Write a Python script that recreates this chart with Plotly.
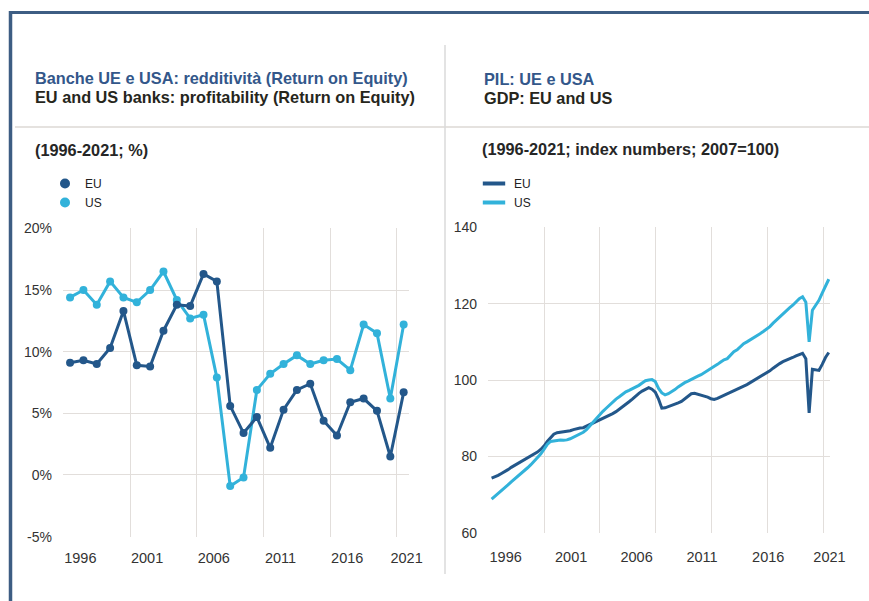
import plotly.graph_objects as go

W, H = 869, 601

# ---------------- data: bank profitability (ROE, %) ----------------
roe_years = list(range(1996, 2022))
roe_eu = [9.1, 9.3, 9.0, 10.3, 13.3, 8.9, 8.8, 11.7, 13.8, 13.7,
          16.3, 15.7, 5.6, 3.4, 4.7, 2.2, 5.3, 6.9, 7.4, 4.4,
          3.2, 5.9, 6.2, 5.2, 1.5, 6.7]
roe_us = [14.4, 15.0, 13.8, 15.7, 14.4, 14.0, 15.0, 16.5, 14.2, 12.7,
          13.0, 7.9, -0.9, -0.2, 6.9, 8.2, 9.0, 9.7, 9.0, 9.3,
          9.4, 8.5, 12.2, 11.5, 6.2, 12.2]
roe_ytick_vals = [-5, 0, 5, 10, 15, 20]
roe_ytick_text = ["-5%", "0%", "5%", "10%", "15%", "20%"]

# ---------------- data: GDP, quarterly, 2007=100 ----------------
gdp_years = list(range(1996, 2022))
gdp_eu = [
    74.3, 74.6, 75.0, 75.5,   # 1996
    75.9, 76.5, 77.1, 77.6,   # 1997
    78.1, 78.6, 79.1, 79.5,   # 1998
    80.0, 80.5, 81.1, 81.8,   # 1999
    82.7, 83.9, 85.0, 85.8,   # 2000
    86.2, 86.3, 86.4, 86.5,   # 2001
    86.7, 87.0, 87.3, 87.4,   # 2002
    87.5, 87.9, 88.4, 88.9,   # 2003
    89.3, 89.7, 90.1, 90.5,   # 2004
    90.8, 91.2, 91.7, 92.3,   # 2005
    92.9, 93.6, 94.3, 95.0,   # 2006
    95.8, 96.5, 97.1, 97.6,   # 2007
    98.0, 97.6, 96.8, 95.0,   # 2008
    92.6, 92.7, 93.0, 93.2,   # 2009
    93.5, 94.0, 94.4, 95.0,   # 2010
    95.7, 96.4, 96.5, 96.3,   # 2011
    96.1, 95.8, 95.5, 95.1,   # 2012
    94.9, 95.2, 95.6, 95.9,   # 2013
    96.2, 96.6, 97.1, 97.5,   # 2014
    97.9, 98.4, 98.8, 99.3,   # 2015
    99.8, 100.2, 100.7, 101.2,  # 2016
    101.7, 102.4, 103.1, 103.8,  # 2017
    104.3, 104.8, 105.1, 105.5,  # 2018
    105.9, 106.3, 106.7, 107.0,  # 2019
    105.6, 91.4, 102.8, 102.6,   # 2020
    102.5, 104.1, 105.9, 107.2,  # 2021
]
gdp_us = [
    68.8, 69.5, 70.3, 71.0,   # 1996
    71.7, 72.5, 73.3, 74.0,   # 1997
    74.7, 75.5, 76.2, 77.0,   # 1998
    77.8, 78.7, 79.6, 80.6,   # 1999
    81.8, 83.1, 83.9, 84.1,   # 2000
    84.1, 84.3, 84.2, 84.3,   # 2001
    84.6, 85.0, 85.4, 85.7,   # 2002
    86.3, 87.0, 88.0, 89.1,   # 2003
    90.0, 90.9, 91.8, 92.6,   # 2004
    93.4, 94.3, 95.0, 95.6,   # 2005
    96.3, 96.9, 97.3, 97.7,   # 2006
    98.0, 98.6, 99.2, 99.8,   # 2007
    100.0, 100.1, 99.6, 97.8,  # 2008
    96.6, 96.1, 96.4, 96.9,   # 2009
    97.5, 98.2, 98.8, 99.3,   # 2010
    99.7, 100.2, 100.6, 101.0,  # 2011
    101.4, 101.9, 102.5, 103.1,  # 2012
    103.6, 104.1, 104.7, 105.3,  # 2013
    105.6, 106.5, 107.4, 107.9,  # 2014
    108.7, 109.5, 110.0, 110.5,  # 2015
    111.0, 111.4, 112.1, 112.7,  # 2016
    113.3, 114.0, 114.9, 115.7,  # 2017
    116.6, 117.5, 118.2, 118.9,  # 2018
    119.6, 120.5, 121.3, 121.8,  # 2019
    120.4, 110.0, 118.3, 119.6,  # 2020
    120.9, 122.8, 124.4, 126.4,  # 2021
]
gdp_ytick_vals = [60, 80, 100, 120, 140]

year_labels = ["1996", "2001", "2006", "2011", "2016", "2021"]

# quarter positions (middle of each quarter, in fractional years)
gdp_x = [y + (q + 0.5) / 4 for y in gdp_years for q in range(4)]

# ---------------- style ----------------
EU_C = "#23578a"
US_C = "#32b2da"
GRID = "#e2dedb"
TICK_C = "#333333"
FONT = "Arial, Liberation Sans, sans-serif"


def fx(p):
    return p / W


def fy(p):
    return 1 - p / H


fig = go.Figure()

# left chart
fig.add_trace(go.Scatter(x=roe_years, y=roe_us, mode="lines+markers", name="US",
                         line=dict(color=US_C, width=3), marker=dict(size=8, color=US_C),
                         xaxis="x", yaxis="y", showlegend=False))
fig.add_trace(go.Scatter(x=roe_years, y=roe_eu, mode="lines+markers", name="EU",
                         line=dict(color=EU_C, width=3), marker=dict(size=8, color=EU_C),
                         xaxis="x", yaxis="y", showlegend=False))
# left legend entries
fig.add_trace(go.Scatter(x=[None], y=[None], mode="markers", name="EU",
                         marker=dict(size=10, color=EU_C), xaxis="x", yaxis="y",
                         legend="legend"))
fig.add_trace(go.Scatter(x=[None], y=[None], mode="markers", name="US",
                         marker=dict(size=10, color=US_C), xaxis="x", yaxis="y",
                         legend="legend"))

# right chart
fig.add_trace(go.Scatter(x=gdp_x, y=gdp_eu, mode="lines", name="EU",
                         line=dict(color=EU_C, width=3), xaxis="x2", yaxis="y2",
                         showlegend=False))
fig.add_trace(go.Scatter(x=gdp_x, y=gdp_us, mode="lines", name="US",
                         line=dict(color=US_C, width=3), xaxis="x2", yaxis="y2",
                         showlegend=False))
fig.add_trace(go.Scatter(x=[None], y=[None], mode="markers", name="EU",
                         marker=dict(symbol="line-ew", size=16, line=dict(width=4, color=EU_C)),
                         xaxis="x2", yaxis="y2", legend="legend2"))
fig.add_trace(go.Scatter(x=[None], y=[None], mode="markers", name="US",
                         marker=dict(symbol="line-ew", size=16, line=dict(width=4, color=US_C)),
                         xaxis="x2", yaxis="y2", legend="legend2"))

xtickfont = dict(family=FONT, size=14.5, color=TICK_C)
ytickfont = dict(family=FONT, size=14, color=TICK_C)

left_label_pos = [1996.77, 2001.77, 2006.77, 2011.77, 2016.77, 2021.22]
right_label_pos = [1997.2, 2002.2, 2007.2, 2012.2, 2017.25, 2021.93]

legfont = dict(family=FONT, size=12, color="#222222")

fig.update_layout(
    width=W, height=H,
    margin=dict(l=0, r=0, t=0, b=0),
    paper_bgcolor="white", plot_bgcolor="white",
    font=dict(family=FONT, color=TICK_C),
    xaxis=dict(domain=[fx(63), fx(409)], range=[1995.47, 2021.4], anchor="y",
               tickvals=left_label_pos, ticktext=year_labels, showgrid=False,
               zeroline=False, showline=False, ticks="", tickfont=xtickfont,
               ticklabelstandoff=10, automargin=False, fixedrange=True,
               minor=dict(tick0=1995.5, dtick=5, showgrid=True, gridcolor=GRID,
                          gridwidth=1.2, ticks="")),
    yaxis=dict(domain=[fy(537), fy(228)], range=[-5.03, 20.03], anchor="x",
               tickvals=roe_ytick_vals, ticktext=roe_ytick_text, showgrid=True,
               gridcolor=GRID, gridwidth=1.2, zeroline=False, showline=False,
               ticks="", tickfont=ytickfont, ticklabelstandoff=10,
               automargin=False, fixedrange=True),
    xaxis2=dict(domain=[fx(488), fx(830)], range=[1995.85, 2021.97], anchor="y2",
                tickvals=right_label_pos, ticktext=year_labels, showgrid=False,
                zeroline=False, showline=False, ticks="", tickfont=xtickfont,
                ticklabelstandoff=13, automargin=False, fixedrange=True,
                minor=dict(tick0=1995.875, dtick=4.26, showgrid=True, gridcolor=GRID,
                           gridwidth=1.2, ticks="")),
    yaxis2=dict(domain=[fy(533), fy(227)], range=[59.9, 140.1], anchor="x2",
                tickvals=gdp_ytick_vals, showgrid=True, gridcolor=GRID, gridwidth=1.2,
                zeroline=False, showline=False, ticks="", tickfont=ytickfont,
                ticklabelstandoff=10, automargin=False, fixedrange=True),
    legend=dict(x=fx(45), y=fy(169), xanchor="left", yanchor="top",
                font=legfont, bgcolor="rgba(0,0,0,0)",
                tracegroupgap=0, itemclick=False, itemdoubleclick=False),
    legend2=dict(x=fx(474), y=fy(169), xanchor="left", yanchor="top",
                 font=legfont, bgcolor="rgba(0,0,0,0)",
                 tracegroupgap=0, itemclick=False, itemdoubleclick=False),
    showlegend=True,
)

# frame and separators
shapes = [
    dict(type="line", xref="paper", yref="paper", x0=fx(9), x1=fx(869), y0=fy(12.5), y1=fy(12.5),
         line=dict(color="#3d5d83", width=3)),
    dict(type="line", xref="paper", yref="paper", x0=fx(10.5), x1=fx(10.5), y0=fy(11), y1=fy(601),
         line=dict(color="#3d5d83", width=3.5)),
    dict(type="line", xref="paper", yref="paper", x0=fx(15), x1=fx(869), y0=fy(127), y1=fy(127),
         line=dict(color="#dcd8d5", width=1.5)),
    dict(type="line", xref="paper", yref="paper", x0=fx(445), x1=fx(445), y0=fy(45), y1=fy(574),
         line=dict(color="#dadada", width=1.5)),
]
fig.update_layout(shapes=shapes)

TITLE_BLUE = "#33578a"
TITLE_DARK = "#26261c"


def txt(x, y, s, color, size=16.3):
    return dict(xref="paper", yref="paper", x=fx(x), y=fy(y), xanchor="left", yanchor="middle",
                text=s, showarrow=False,
                font=dict(family=FONT, size=size, color=color, weight="bold"))


fig.update_layout(annotations=[
    txt(33, 77.5, "Banche UE e USA: redditività (Return on Equity)", TITLE_BLUE),
    txt(33, 97.5, "EU and US banks: profitability (Return on Equity)", TITLE_DARK),
    txt(33, 150, "(1996-2021; %)", "#262626"),
    txt(482, 78.5, "PIL: UE e USA", TITLE_BLUE),
    txt(482, 98.5, "GDP: EU and US", TITLE_DARK),
    txt(480, 149, "(1996-2021; index numbers; 2007=100)", "#262626"),
])

fig.write_html("out.html", config={"displayModeBar": False},
               post_script="document.body.style.margin='0';document.body.style.overflow='hidden';")
